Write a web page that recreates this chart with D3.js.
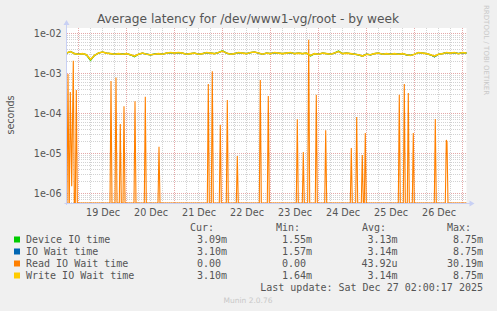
<!DOCTYPE html>
<html>
<head>
<meta charset="utf-8">
<script src="https://cdn.jsdelivr.net/npm/d3@7"></script>
<style>
  body { margin: 0; background: #f0f0f0; }
  svg { display: block; }
  text { font-family: "DejaVu Sans", sans-serif; fill: #555; }
  .mono { font-family: "DejaVu Sans Mono", monospace; white-space: pre; }
</style>
</head>
<body>
<div id="vis"></div>
<script>
const WIDTH = 497;
const HEIGHT = 311;
const PLOT = {left: 66.5, right: 466.5, top: 28, bottom: 203};

// time window of the graph, one sample every 2 hours for the main lines
const START = new Date(2025, 11, 18, 18, 0);
const END = new Date(2025, 11, 27, 2, 0);
const STEP_HOURS = 2;

// values in milliseconds
const writeMs = [3.2,3.5,3.1,3.0,3.1,2.9,2.2,2.8,3.2,3.4,
  3.2,3.1,3.0,3.1,3.0,3.1,2.9,2.7,3.0,3.2,
  3.0,2.9,3.0,3.1,3.0,3.2,3.3,3.2,3.3,3.2,
  3.0,3.1,3.2,3.0,3.1,3.3,3.2,3.1,3.3,3.6,
  3.2,3.0,3.1,3.3,3.2,3.1,3.3,3.4,3.2,3.0,
  3.2,3.1,3.3,3.2,3.1,3.2,3.3,3.1,3.2,3.1,
  3.2,2.8,3.1,3.0,3.2,3.1,3.0,3.2,3.5,3.1,
  3.2,3.1,3.0,2.9,2.7,3.0,2.9,3.1,3.2,3.0,
  3.1,3.0,3.1,3.0,3.1,2.9,2.8,3.0,3.3,3.2,
  3.1,2.9,2.7,3.0,3.1,3.3,3.2,3.3,3.1,3.3,
  3.2];
const deviceMs = [3.2,3.5,3.1,3.0,3.1,2.9,2.1,2.8,3.2,3.4,
  3.2,3.1,3.0,3.1,3.0,3.1,2.9,2.6,3.0,3.2,
  3.0,2.9,3.0,3.1,3.0,3.2,3.3,3.2,3.3,3.2,
  3.0,3.1,3.2,3.0,3.1,3.3,3.2,3.1,3.3,3.7,
  3.2,3.0,3.1,3.3,3.2,3.1,3.3,3.4,3.2,3.0,
  3.2,3.1,3.3,3.2,3.1,3.2,3.3,3.1,3.2,3.1,
  3.2,2.7,3.1,3.0,3.2,3.1,3.0,3.2,3.6,3.1,
  3.2,3.1,3.0,2.9,2.7,3.0,2.9,3.1,3.2,3.0,
  3.1,3.0,3.1,3.0,3.1,2.9,2.8,3.0,3.3,3.2,
  3.1,2.9,2.6,3.0,3.1,3.3,3.2,3.3,3.1,3.3,
  3.2];
const ioWaitMs = [3.2,3.5,3.1,3.0,3.1,2.9,2.2,2.8,3.2,3.4,
  3.2,3.1,3.0,3.1,3.0,3.1,2.9,2.7,3.0,3.2,
  3.0,2.9,3.0,3.1,3.0,3.2,3.3,3.2,3.3,3.2,
  3.0,3.1,3.2,3.0,3.1,3.3,3.2,3.1,3.3,3.6,
  3.2,3.0,3.1,3.3,3.2,3.1,3.3,3.4,3.2,3.0,
  3.2,3.1,3.3,3.2,3.1,3.2,3.3,3.1,3.2,3.1,
  3.2,2.8,3.1,3.0,3.2,3.1,3.0,3.2,3.5,3.1,
  3.2,3.1,3.0,2.9,2.7,3.0,2.9,3.1,3.2,3.0,
  3.1,3.0,3.1,3.0,3.1,2.9,2.8,3.0,3.3,3.2,
  3.1,2.9,2.6,3.0,3.1,3.3,3.2,3.3,3.1,3.3,
  3.2];

// read wait is zero except for short spikes (hours after START, seconds)
const readHours = [0.75,1.9,2.6,3.4,4.9,22.25,24.75,26.9,28.75,34.25,39.4,46.25,
  70.9,72.9,76.9,80.4,85.4,96.9,100.9,115.4,118.4,121.1,124.9,129.6,
  142.4,145.1,147.9,149.4,166.4,168.9,170.9,173.4,184.4,189.9,190.25];
const readValues = [9.6e-4,3.4e-4,1.5e-6,2.07e-3,3.8e-4,6.4e-4,7.8e-4,5.4e-5,1.5e-4,2.0e-4,2.6e-4,1.45e-5,
  5.4e-4,1.12e-3,5.2e-5,2.15e-4,8.5e-6,6.8e-4,2.7e-4,7.1e-5,1.07e-5,6.9e-3,2.9e-4,3.76e-5,
  1.36e-5,8.1e-5,9.1e-6,3.2e-5,2.9e-4,5.4e-4,3.2e-4,3.2e-5,7.2e-5,2.15e-5,1.9e-5];

const yTicks = [1e-2, 1e-3, 1e-4, 1e-5, 1e-6];
const yTickLabels = ["1e-02", "1e-03", "1e-04", "1e-05", "1e-06"];
const dayLabels = ["19 Dec", "20 Dec", "21 Dec", "22 Dec", "23 Dec", "24 Dec", "25 Dec", "26 Dec"];

const legendNames = ["Device IO time", "IO Wait time", "Read IO Wait time", "Write IO Wait time"];
const legendColors = ["#00cc00", "#0066b3", "#ff8000", "#ffcc00"];
const curVals = ["3.09m", "3.10m", "0.00 ", "3.10m"];
const minVals = ["1.55m", "1.57m", "0.00 ", "1.64m"];
const avgVals = ["3.13m", "3.14m", "43.92u", "3.14m"];
const maxVals = ["8.75m", "8.75m", "30.19m", "8.75m"];

const svg = d3.select("#vis").append("svg")
    .attr("width", WIDTH)
    .attr("height", HEIGHT);

svg.append("rect").attr("width", WIDTH).attr("height", HEIGHT).attr("fill", "#f0f0f0");
svg.append("rect")
    .attr("x", PLOT.left).attr("y", PLOT.top)
    .attr("width", PLOT.right - PLOT.left).attr("height", PLOT.bottom - PLOT.top)
    .attr("fill", "#ffffff");

const X_SCALE = d3.scaleTime().domain([START, END]).range([PLOT.left, PLOT.right]);
const Y_SCALE = d3.scaleLog().domain([5.72e-7, 1.357e-2]).range([PLOT.bottom, PLOT.top]).clamp(true);
const Y_MIN = Y_SCALE.domain()[0];

const hourToDate = (h) => new Date(START.getTime() + h * 3600e3);

// grid
const grid = svg.append("g").attr("shape-rendering", "crispEdges");
const minorY = [];
for (let e = -7; e <= -2; e++) {
  for (let k = 2; k <= 9; k++) {
    const v = k * Math.pow(10, e);
    if (v > Y_MIN && v < Y_SCALE.domain()[1]) minorY.push(v);
  }
}
grid.selectAll(".minory").data(minorY).enter().append("line")
    .attr("x1", PLOT.left).attr("x2", PLOT.right)
    .attr("y1", d => Math.round(Y_SCALE(d)) + 0.5).attr("y2", d => Math.round(Y_SCALE(d)) + 0.5)
    .attr("stroke", "#d2d2d2").attr("stroke-dasharray", "1,1");

const sixHours = d3.timeHour.every(6).range(START, END);
grid.selectAll(".minorx").data(sixHours.filter(d => d.getHours() !== 0)).enter().append("line")
    .attr("x1", d => X_SCALE(d)).attr("x2", d => X_SCALE(d))
    .attr("y1", PLOT.top).attr("y2", PLOT.bottom)
    .attr("stroke", "#d2d2d2").attr("stroke-dasharray", "1,1");

grid.selectAll(".majory").data(yTicks).enter().append("line")
    .attr("x1", PLOT.left).attr("x2", PLOT.right)
    .attr("y1", d => Math.round(Y_SCALE(d)) + 0.5).attr("y2", d => Math.round(Y_SCALE(d)) + 0.5)
    .attr("stroke", "#e4a8a8").attr("stroke-dasharray", "1,1");

const days = d3.timeDay.range(START, END);
grid.selectAll(".majorx").data(days).enter().append("line")
    .attr("x1", d => X_SCALE(d)).attr("x2", d => X_SCALE(d))
    .attr("y1", PLOT.top).attr("y2", PLOT.bottom)
    .attr("stroke", "#e4a8a8").attr("stroke-dasharray", "1,1");

// axes
const yAxis = d3.axisLeft(Y_SCALE).tickValues(yTicks)
    .tickFormat((d, i) => yTickLabels[i]).tickSize(0).tickPadding(5);
const yg = svg.append("g").attr("transform", "translate(" + PLOT.left + ",0)").call(yAxis);
yg.select(".domain").remove();
yg.selectAll("text").style("font-size", "9.6px").attr("fill", "#555").attr("font-family", "DejaVu Sans");

const noons = days.map(d => d3.timeHour.offset(d, 12));
const xAxis = d3.axisBottom(X_SCALE).tickValues(noons)
    .tickFormat((d, i) => dayLabels[i]).tickSize(0).tickPadding(6);
const xg = svg.append("g").attr("transform", "translate(0," + PLOT.bottom + ")").call(xAxis);
xg.select(".domain").remove();
xg.selectAll("text").style("font-size", "9.6px").attr("fill", "#555").attr("font-family", "DejaVu Sans");

// series
const mainLine = d3.line()
    .x((d, i) => X_SCALE(hourToDate(i * STEP_HOURS)))
    .y(d => Y_SCALE(d * 1e-3));

const readSeries = [{h: 0, v: 0}];
readHours.forEach((h, i) => {
  const prev = readHours[i - 1], next = readHours[i + 1];
  if (prev === undefined || h - prev >= 1) readSeries.push({h: h - 0.5, v: 0});
  readSeries.push({h: h, v: readValues[i]});
  if (next === undefined || next - h >= 1) readSeries.push({h: h + 0.5, v: 0});
});
readSeries.push({h: 200, v: 0});

const readLine = d3.line()
    .x(d => X_SCALE(hourToDate(d.h)))
    .y(d => Y_SCALE(d.v > 0 ? d.v : Y_MIN));

const series = svg.append("g");
series.append("path").datum(deviceMs).attr("d", mainLine)
    .attr("fill", "none").attr("stroke", legendColors[0]).attr("stroke-width", 1.2);
series.append("path").datum(ioWaitMs).attr("d", mainLine)
    .attr("fill", "none").attr("stroke", legendColors[1]).attr("stroke-width", 1.2);
series.append("path").datum(readSeries).attr("d", readLine)
    .attr("fill", "none").attr("stroke", legendColors[2]).attr("stroke-width", 1.1);
series.append("path").datum(writeMs).attr("d", mainLine)
    .attr("fill", "none").attr("stroke", legendColors[3]).attr("stroke-width", 1.6);

// axis lines with arrows
const axisCol = "#c8d0f4";
svg.append("line").attr("x1", PLOT.left).attr("x2", PLOT.left)
    .attr("y1", PLOT.top - 5).attr("y2", PLOT.bottom + 2).attr("stroke", axisCol);
svg.append("path").attr("d", `M${PLOT.left - 3},${PLOT.top - 3} L${PLOT.left + 3},${PLOT.top - 3} L${PLOT.left},${PLOT.top - 8} Z`)
    .attr("fill", axisCol);
svg.append("line").attr("x1", PLOT.left - 2).attr("x2", PLOT.right + 4)
    .attr("y1", PLOT.bottom + 0.5).attr("y2", PLOT.bottom + 0.5).attr("stroke", axisCol);
svg.append("path").attr("d", `M${PLOT.right + 3},${PLOT.bottom - 2.5} L${PLOT.right + 3},${PLOT.bottom + 3.5} L${PLOT.right + 8},${PLOT.bottom + 0.5} Z`)
    .attr("fill", axisCol);

// titles
svg.append("text").attr("x", 248).attr("y", 23).attr("text-anchor", "middle")
    .style("font-size", "12.2px").text("Average latency for /dev/www1-vg/root - by week");
svg.append("text").attr("transform", "translate(14,115) rotate(-90)").attr("text-anchor", "middle")
    .style("font-size", "9.6px").text("seconds");
svg.append("text").attr("transform", "translate(484,5) rotate(90)")
    .style("font-size", "7px").style("fill", "#c8c8c8")
    .text("RRDTOOL / TOBI OETIKER");

// legend
const LEG_Y = [239.5, 251.5, 263.5, 275.5];
const leg = svg.append("g");
leg.selectAll("rect").data(legendColors).enter().append("rect")
    .attr("x", 14).attr("y", (d, i) => LEG_Y[i] - 3).attr("width", 6).attr("height", 6)
    .attr("fill", d => d);
leg.selectAll(".name").data(legendNames).enter().append("text").attr("class", "mono")
    .attr("x", 26).attr("y", (d, i) => LEG_Y[i]).attr("dy", "0.35em")
    .style("font-size", "10px").text(d => d);

const heads = [["Cur:", 214], ["Min:", 300], ["Avg:", 386], ["Max:", 471]];
heads.forEach(h => {
  leg.append("text").attr("class", "mono").attr("x", h[1]).attr("y", 227.7).attr("dy", "0.35em")
      .attr("text-anchor", "end").style("font-size", "10px").text(h[0]);
});
const cols = [[curVals, 227], [minVals, 312], [avgVals, 397.5], [maxVals, 483]];
cols.forEach(c => {
  leg.selectAll(null).data(c[0]).enter().append("text").attr("class", "mono")
      .attr("x", c[1]).attr("y", (d, i) => LEG_Y[i]).attr("dy", "0.35em")
      .attr("text-anchor", "end").style("font-size", "10px").text(d => d);
});
leg.append("text").attr("class", "mono").attr("x", 483).attr("y", 287.7).attr("dy", "0.35em")
    .attr("text-anchor", "end").style("font-size", "10px").text("Last update: Sat Dec 27 02:00:17 2025");
svg.append("text").attr("x", 248).attr("y", 300).attr("dy", "0.35em").attr("text-anchor", "middle")
    .style("font-size", "7.5px").style("fill", "#c8c8c8").text("Munin 2.0.76");
</script>
</body>
</html>
